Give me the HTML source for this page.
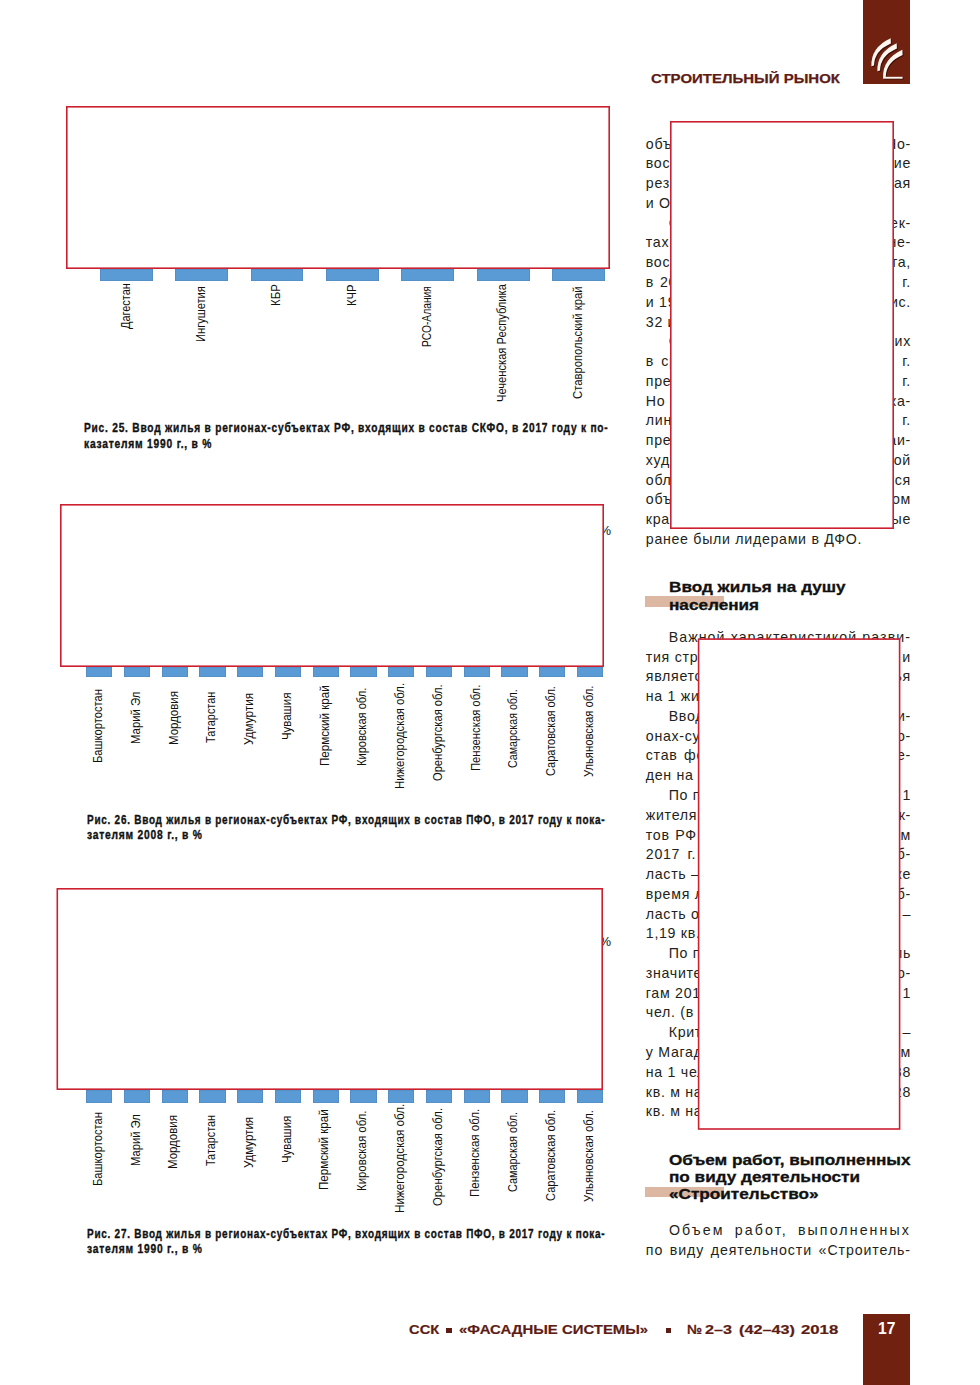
<!DOCTYPE html>
<html lang="ru"><head><meta charset="utf-8"><title>Строительный рынок — 17</title>
<style>
*{margin:0;padding:0;box-sizing:border-box}
html,body{background:#fff;width:980px;height:1385px;overflow:hidden}
body{position:relative;font-family:"Liberation Sans",Arial,sans-serif;color:#231f20}
.a{position:absolute;white-space:nowrap}
.bar{position:absolute;background:#5b9bd5;box-shadow:inset 0 0 0 0.6px #4f87bd}
.lb{position:absolute;font-size:12.8px;line-height:14px;white-space:nowrap;transform-origin:0 0;color:#111}
.cap{position:absolute;font-weight:bold;font-size:12.5px;line-height:15px;letter-spacing:.95px;white-space:nowrap;transform-origin:0 0;color:#111;-webkit-text-stroke:.35px #111}
.ln{position:absolute;left:645.8px;width:265.2px;font-size:14.2px;line-height:18px;letter-spacing:.7px;display:flex;justify-content:space-between;white-space:nowrap}
.ln span{display:block}
.hd{position:absolute;font-weight:bold;font-size:14px;line-height:17px;white-space:nowrap;transform-origin:0 0;transform:scaleX(1.225);color:#111;-webkit-text-stroke:.3px #111}
.tan{position:absolute;background:#dcb7a2}
.ft{position:absolute;font-weight:bold;font-size:13.5px;line-height:16px;white-space:nowrap;transform-origin:0 0;color:#5c1c14;-webkit-text-stroke:.2px currentColor}
</style></head>
<body>
<div class="bar" style="left:100.0px;top:269px;width:52.8px;height:11.5px"></div>
<div class="lb" style="left:118.6px;top:328.9px;transform:rotate(-90deg) scaleX(0.8539)">Дагестан</div>
<div class="bar" style="left:175.3px;top:269px;width:52.8px;height:11.5px"></div>
<div class="lb" style="left:193.9px;top:341.8px;transform:rotate(-90deg) scaleX(0.8689)">Ингушетия</div>
<div class="bar" style="left:250.7px;top:269px;width:52.8px;height:11.5px"></div>
<div class="lb" style="left:269.3px;top:306.4px;transform:rotate(-90deg) scaleX(0.8971)">КБР</div>
<div class="bar" style="left:326.0px;top:269px;width:52.8px;height:11.5px"></div>
<div class="lb" style="left:344.6px;top:306.0px;transform:rotate(-90deg) scaleX(0.8789)">КЧР</div>
<div class="bar" style="left:401.4px;top:269px;width:52.8px;height:11.5px"></div>
<div class="lb" style="left:420.0px;top:346.9px;transform:rotate(-90deg) scaleX(0.8024)">РСО-Алания</div>
<div class="bar" style="left:476.8px;top:269px;width:52.8px;height:11.5px"></div>
<div class="lb" style="left:495.3px;top:402.4px;transform:rotate(-90deg) scaleX(0.8715)">Чеченская Республика</div>
<div class="bar" style="left:552.1px;top:269px;width:52.8px;height:11.5px"></div>
<div class="lb" style="left:570.7px;top:399.0px;transform:rotate(-90deg) scaleX(0.8803)">Ставропольский край</div>
<div class="bar" style="left:86.1px;top:667px;width:26.4px;height:10px"></div>
<div class="lb" style="left:91.0px;top:762.9px;transform:rotate(-90deg) scaleX(0.8738)">Башкортостан</div>
<div class="bar" style="left:123.8px;top:667px;width:26.4px;height:10px"></div>
<div class="lb" style="left:128.7px;top:743.5px;transform:rotate(-90deg) scaleX(0.8879)">Марий Эл</div>
<div class="bar" style="left:161.6px;top:667px;width:26.4px;height:10px"></div>
<div class="lb" style="left:166.5px;top:745.4px;transform:rotate(-90deg) scaleX(0.8958)">Мордовия</div>
<div class="bar" style="left:199.3px;top:667px;width:26.4px;height:10px"></div>
<div class="lb" style="left:204.2px;top:743.4px;transform:rotate(-90deg) scaleX(0.8496)">Татарстан</div>
<div class="bar" style="left:237.1px;top:667px;width:26.4px;height:10px"></div>
<div class="lb" style="left:242.0px;top:744.5px;transform:rotate(-90deg) scaleX(0.9234)">Удмуртия</div>
<div class="bar" style="left:274.9px;top:667px;width:26.4px;height:10px"></div>
<div class="lb" style="left:279.7px;top:739.6px;transform:rotate(-90deg) scaleX(0.8923)">Чувашия</div>
<div class="bar" style="left:312.6px;top:667px;width:26.4px;height:10px"></div>
<div class="lb" style="left:317.5px;top:766.1px;transform:rotate(-90deg) scaleX(0.9055)">Пермский край</div>
<div class="bar" style="left:350.4px;top:667px;width:26.4px;height:10px"></div>
<div class="lb" style="left:355.2px;top:766.1px;transform:rotate(-90deg) scaleX(0.8669)">Кировская обл.</div>
<div class="bar" style="left:388.1px;top:667px;width:26.4px;height:10px"></div>
<div class="lb" style="left:393.0px;top:788.6px;transform:rotate(-90deg) scaleX(0.8857)">Нижегородская обл.</div>
<div class="bar" style="left:425.9px;top:667px;width:26.4px;height:10px"></div>
<div class="lb" style="left:430.7px;top:781.1px;transform:rotate(-90deg) scaleX(0.8705)">Оренбургская обл.</div>
<div class="bar" style="left:463.6px;top:667px;width:26.4px;height:10px"></div>
<div class="lb" style="left:468.5px;top:771.4px;transform:rotate(-90deg) scaleX(0.8797)">Пензенская обл.</div>
<div class="bar" style="left:501.4px;top:667px;width:26.4px;height:10px"></div>
<div class="lb" style="left:506.2px;top:767.8px;transform:rotate(-90deg) scaleX(0.8341)">Самарская обл.</div>
<div class="bar" style="left:539.1px;top:667px;width:26.4px;height:10px"></div>
<div class="lb" style="left:544.0px;top:776.3px;transform:rotate(-90deg) scaleX(0.8583)">Саратовская обл.</div>
<div class="bar" style="left:576.9px;top:667px;width:26.4px;height:10px"></div>
<div class="lb" style="left:581.7px;top:777.1px;transform:rotate(-90deg) scaleX(0.8801)">Ульяновская обл.</div>
<div class="a" style="left:599.5px;top:523.0px;font-size:13px;line-height:15px;color:#111">%</div>
<div class="bar" style="left:86.0px;top:1090px;width:26.4px;height:13px"></div>
<div class="lb" style="left:90.9px;top:1185.8px;transform:rotate(-90deg) scaleX(0.8738)">Башкортостан</div>
<div class="bar" style="left:123.8px;top:1090px;width:26.4px;height:13px"></div>
<div class="lb" style="left:128.6px;top:1165.9px;transform:rotate(-90deg) scaleX(0.8741)">Марий Эл</div>
<div class="bar" style="left:161.5px;top:1090px;width:26.4px;height:13px"></div>
<div class="lb" style="left:166.4px;top:1168.5px;transform:rotate(-90deg) scaleX(0.8941)">Мордовия</div>
<div class="bar" style="left:199.2px;top:1090px;width:26.4px;height:13px"></div>
<div class="lb" style="left:204.1px;top:1166.3px;transform:rotate(-90deg) scaleX(0.8446)">Татарстан</div>
<div class="bar" style="left:237.0px;top:1090px;width:26.4px;height:13px"></div>
<div class="lb" style="left:241.9px;top:1167.6px;transform:rotate(-90deg) scaleX(0.9040)">Удмуртия</div>
<div class="bar" style="left:274.8px;top:1090px;width:26.4px;height:13px"></div>
<div class="lb" style="left:279.6px;top:1163.2px;transform:rotate(-90deg) scaleX(0.8904)">Чувашия</div>
<div class="bar" style="left:312.5px;top:1090px;width:26.4px;height:13px"></div>
<div class="lb" style="left:317.4px;top:1189.8px;transform:rotate(-90deg) scaleX(0.9055)">Пермский край</div>
<div class="bar" style="left:350.2px;top:1090px;width:26.4px;height:13px"></div>
<div class="lb" style="left:355.1px;top:1190.6px;transform:rotate(-90deg) scaleX(0.8917)">Кировская обл.</div>
<div class="bar" style="left:388.0px;top:1090px;width:26.4px;height:13px"></div>
<div class="lb" style="left:392.9px;top:1212.8px;transform:rotate(-90deg) scaleX(0.9128)">Нижегородская обл.</div>
<div class="bar" style="left:425.8px;top:1090px;width:26.4px;height:13px"></div>
<div class="lb" style="left:430.6px;top:1205.6px;transform:rotate(-90deg) scaleX(0.8850)">Оренбургская обл.</div>
<div class="bar" style="left:463.5px;top:1090px;width:26.4px;height:13px"></div>
<div class="lb" style="left:468.4px;top:1196.9px;transform:rotate(-90deg) scaleX(0.8984)">Пензенская обл.</div>
<div class="bar" style="left:501.2px;top:1090px;width:26.4px;height:13px"></div>
<div class="lb" style="left:506.1px;top:1191.5px;transform:rotate(-90deg) scaleX(0.8490)">Самарская обл.</div>
<div class="bar" style="left:539.0px;top:1090px;width:26.4px;height:13px"></div>
<div class="lb" style="left:543.9px;top:1201.3px;transform:rotate(-90deg) scaleX(0.8708)">Саратовская обл.</div>
<div class="bar" style="left:576.8px;top:1090px;width:26.4px;height:13px"></div>
<div class="lb" style="left:581.6px;top:1202.1px;transform:rotate(-90deg) scaleX(0.8850)">Ульяновская обл.</div>
<div class="a" style="left:599.5px;top:933.7px;font-size:13px;line-height:15px;color:#111">%</div>
<div class="cap" style="left:84.1px;top:421.1px;transform:scaleX(0.8137)">Рис. 25. Ввод жилья в регионах-субъектах РФ, входящих в состав СКФО, в 2017 году к по-</div>
<div class="cap" style="left:84.1px;top:437.1px;transform:scaleX(0.8205)">казателям 1990 г., в %</div>
<div class="cap" style="left:86.9px;top:812.9px;transform:scaleX(0.7959)">Рис. 26. Ввод жилья в регионах-субъектах РФ, входящих в состав ПФО, в 2017 году к пока-</div>
<div class="cap" style="left:86.9px;top:828.4px;transform:scaleX(0.8209)">зателям 2008 г., в %</div>
<div class="cap" style="left:86.9px;top:1226.9px;transform:scaleX(0.7959)">Рис. 27. Ввод жилья в регионах-субъектах РФ, входящих в состав ПФО, в 2017 году к пока-</div>
<div class="cap" style="left:86.9px;top:1242.4px;transform:scaleX(0.8202)">зателям 1990 г., в %</div>
<div class="ln" style="top:134.6px;"><span>объем ввода жилья</span><span>Но-</span></div>
<div class="ln" style="top:154.3px;"><span>восточных регионах</span><span>ние</span></div>
<div class="ln" style="top:174.1px;"><span>резко сократился</span><span>кая</span></div>
<div class="ln" style="top:193.9px;"><span>и Омская область.</span><span></span></div>
<div class="ln" style="top:213.7px;padding-left:22.9px;"><span>Среди регионов</span><span>субъек-</span></div>
<div class="ln" style="top:233.4px;"><span>тах Дальнего</span><span>не-</span></div>
<div class="ln" style="top:253.2px;"><span>восибирская</span><span>та,</span></div>
<div class="ln" style="top:273.0px;word-spacing:1.2px;"><span>в 2017 году</span><span>г.</span></div>
<div class="ln" style="top:292.7px;"><span>и 1990</span><span>рис.</span></div>
<div class="ln" style="top:312.5px;"><span>32 и 33).</span><span></span></div>
<div class="ln" style="top:332.3px;padding-left:22.9px;"><span>Сравнивая</span><span>ших</span></div>
<div class="ln" style="top:352.0px;word-spacing:2.6px;"><span>в сравнении</span><span>г.</span></div>
<div class="ln" style="top:371.8px;"><span>превысил</span><span>г.</span></div>
<div class="ln" style="top:391.6px;"><span>Но в</span><span>ка-</span></div>
<div class="ln" style="top:411.4px;"><span>линградской</span><span>г.</span></div>
<div class="ln" style="top:431.1px;"><span>превышали</span><span>наи-</span></div>
<div class="ln" style="top:450.9px;"><span>худший</span><span>ской</span></div>
<div class="ln" style="top:470.7px;"><span>области</span><span>ется</span></div>
<div class="ln" style="top:490.4px;"><span>объем</span><span>ном</span></div>
<div class="ln" style="top:510.2px;"><span>краях</span><span>ные</span></div>
<div class="ln" style="top:530.0px;"><span>ранее были лидерами в ДФО.</span><span></span></div>
<div class="tan" style="left:645px;top:596px;width:78.5px;height:10.5px"></div>
<div class="hd" style="left:669.4px;top:579.0px">Ввод жилья на душу</div>
<div class="hd" style="left:669.4px;top:596.6px">населения</div>
<div class="ln" style="top:627.8px;padding-left:22.9px;display:block;text-align:justify;text-align-last:justify;letter-spacing:1.05px">Важной характеристикой разви-</div>
<div class="ln" style="top:647.5px;"><span>тия строительной отрасли</span><span>и</span></div>
<div class="ln" style="top:667.3px;"><span>является ввод</span><span>жилья</span></div>
<div class="ln" style="top:687.1px;"><span>на 1 жителя.</span><span></span></div>
<div class="ln" style="top:706.9px;padding-left:22.9px;"><span>Ввод жилья</span><span>реги-</span></div>
<div class="ln" style="top:726.6px;"><span>онах-субъектах</span><span>со-</span></div>
<div class="ln" style="top:746.4px;word-spacing:2px;"><span>став федеральных</span><span>де-</span></div>
<div class="ln" style="top:766.2px;"><span>ден на рис. 34.</span><span></span></div>
<div class="ln" style="top:785.9px;padding-left:22.9px;"><span>По показателю</span><span>1</span></div>
<div class="ln" style="top:805.7px;"><span>жителя среди</span><span>субъек-</span></div>
<div class="ln" style="top:825.5px;word-spacing:1px;"><span>тов РФ</span><span>том</span></div>
<div class="ln" style="top:845.2px;word-spacing:2.6px;"><span>2017 г. лидирует</span><span>об-</span></div>
<div class="ln" style="top:865.0px;"><span>ласть – 0,94</span><span>же</span></div>
<div class="ln" style="top:884.8px;"><span>время лидером</span><span>об-</span></div>
<div class="ln" style="top:904.6px;"><span>ласть о</span><span>–</span></div>
<div class="ln" style="top:924.3px;"><span>1,19 кв. м.</span><span></span></div>
<div class="ln" style="top:944.1px;padding-left:22.9px;"><span>По показателю</span><span>ль</span></div>
<div class="ln" style="top:963.9px;"><span>значительно</span><span>ито-</span></div>
<div class="ln" style="top:983.6px;"><span>гам 2017 г.</span><span>1</span></div>
<div class="ln" style="top:1003.4px;"><span>чел. (в 2016 г.)</span><span></span></div>
<div class="ln" style="top:1023.2px;padding-left:22.9px;"><span>Критически</span><span>–</span></div>
<div class="ln" style="top:1042.9px;"><span>у Магаданской</span><span>м</span></div>
<div class="ln" style="top:1062.7px;"><span>на 1 человека</span><span>0,38</span></div>
<div class="ln" style="top:1082.5px;"><span>кв. м на</span><span>0,28</span></div>
<div class="ln" style="top:1102.3px;"><span>кв. м на 1 человека.</span><span></span></div>
<div class="tan" style="left:645px;top:1187.2px;width:79px;height:10.3px"></div>
<div class="hd" style="left:669.4px;top:1151.5px">Объем работ, выполненных</div>
<div class="hd" style="left:669.4px;top:1168.9px">по виду деятельности</div>
<div class="hd" style="left:669.4px;top:1186.3px">«Строительство»</div>
<div class="ln" style="top:1221.2px;padding-left:23.2px;display:block;text-align:justify;text-align-last:justify;letter-spacing:2.1px">Объем работ, выполненных</div>
<div class="ln" style="top:1240.7px;display:block;text-align:justify;text-align-last:justify;letter-spacing:.9px">по виду деятельности «Строитель-</div>
<svg class="a" style="left:0;top:0" width="980" height="1385" viewBox="0 0 980 1385"><g fill="#fff" stroke="#cc1f30" stroke-width="1.6"><rect x="66.80" y="106.80" width="542.40" height="161.40"/><rect x="60.80" y="504.80" width="542.40" height="161.40"/><rect x="57.30" y="888.80" width="544.90" height="200.40"/><rect x="670.80" y="121.80" width="222.40" height="406.40"/><rect x="698.60" y="639.10" width="201.00" height="489.90"/></g></svg>
<div class="ft" style="left:651.2px;top:71.0px;font-size:13.2px;transform:scaleX(1.136);color:#5e1b15;-webkit-text-stroke:.25px #5e1b15">СТРОИТЕЛЬНЫЙ РЫНОК</div>
<svg class="a" style="left:863px;top:0" width="47" height="84" viewBox="0 0 47 84"><rect width="47" height="84" fill="#71210f"/><g fill="#3e0d07" transform="translate(.9 .8)"><path d="M8.4 66.3 Q7.6 47.5 27.7 38.3 L27.9 43.6 Q11.4 50.6 11 65.6 Z"/><path d="M8.4 66.3 Q7.6 47.5 27.7 38.3 L27.9 43.6 Q11.4 50.6 11 65.6 Z" transform="translate(6 5)"/><path d="M8.4 66.3 Q7.6 47.5 27.7 38.3 L27.9 43.6 Q11.4 50.6 11 65.6 Z" transform="translate(11.7 11.5)"/><rect x="20.1" y="76.8" width="19.5" height="1.9"/></g><g fill="#fff6f0" ><path d="M8.4 66.3 Q7.6 47.5 27.7 38.3 L27.9 43.6 Q11.4 50.6 11 65.6 Z"/><path d="M8.4 66.3 Q7.6 47.5 27.7 38.3 L27.9 43.6 Q11.4 50.6 11 65.6 Z" transform="translate(6 5)"/><path d="M8.4 66.3 Q7.6 47.5 27.7 38.3 L27.9 43.6 Q11.4 50.6 11 65.6 Z" transform="translate(11.7 11.5)"/><rect x="20.1" y="76.8" width="19.5" height="1.9"/></g></svg>
<div class="ft" style="left:409px;top:1321.6px;font-size:13.5px;transform:scaleX(1.09);color:#5c1c14">ССК</div>
<div class="a" style="left:446.4px;top:1327.7px;width:5.5px;height:5.2px;background:#5c1c14"></div>
<div class="ft" style="left:458.6px;top:1321.6px;font-size:13.5px;transform:scaleX(1.105);color:#5c1c14">«ФАСАДНЫЕ СИСТЕМЫ»</div>
<div class="a" style="left:665.8px;top:1327.7px;width:5px;height:5.2px;background:#5c1c14"></div>
<div class="ft" style="left:687px;top:1321.6px;font-size:13.5px;transform:scaleX(1.0);color:#5c1c14">№</div>
<div class="ft" style="left:705.3px;top:1321.6px;font-size:13.5px;transform:scaleX(1.2);color:#5c1c14">2–3</div>
<div class="ft" style="left:738.5px;top:1321.6px;font-size:13.5px;transform:scaleX(1.2);color:#5c1c14">(42–43)</div>
<div class="ft" style="left:800.6px;top:1321.6px;font-size:13.5px;transform:scaleX(1.24);color:#5c1c14">2018</div>
<div class="a" style="left:863.2px;top:1313.9px;width:47.2px;height:72px;background:#71210f"></div>
<div class="a" style="left:878px;top:1319.8px;font-size:17px;line-height:18px;font-weight:bold;color:#fff;transform-origin:0 0;transform:scaleX(.92)">17</div>
</body></html>
